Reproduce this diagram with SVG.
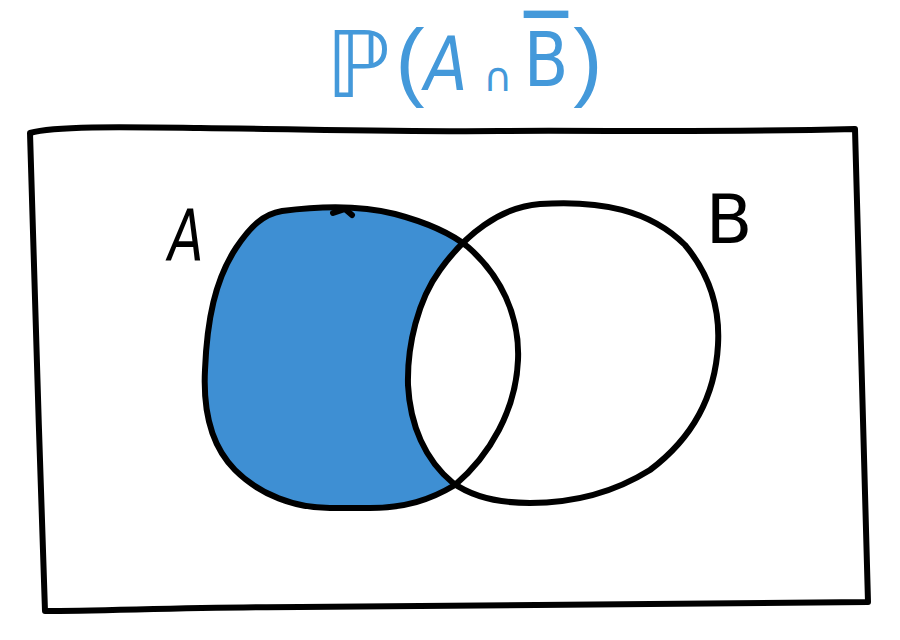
<svg xmlns="http://www.w3.org/2000/svg" width="900" height="640" viewBox="0 0 900 640">
<style>
.ink{fill:none;stroke:#000;stroke-width:6;stroke-linecap:round;stroke-linejoin:round}
.title{font-family:"DejaVu Sans",sans-serif;fill:#4499da;text-anchor:middle}
.paren{font-family:"Liberation Sans",sans-serif;fill:#4499da;text-anchor:middle}
.lbl{font-family:"DejaVu Sans",sans-serif;fill:#000;text-anchor:middle}
</style>
<rect width="900" height="640" fill="#fff"/>
<g id="title">
<text class="title" x="358" y="97" font-size="92">ℙ</text>
<text class="paren" x="410" y="90" font-size="88">(</text>
<text class="title" x="446" y="90" font-size="74" font-style="italic" transform="translate(446,0) scale(0.85,1) translate(-446,0)">A</text>
<text class="title" x="498" y="91" font-size="40">∩</text>
<text class="title" x="546" y="86" font-size="74" text-decoration="overline" transform="translate(546,0) scale(0.88,1) translate(-546,0)">B</text>
<text class="paren" x="588" y="90" font-size="88">)</text>
</g>
<g id="universe">
<path class="ink" d="M30,133 C55,126 120,127 200,128 C300,129 400,132 500,131 C600,130 700,133 855,129 C858,250 862,420 868,602 C700,604 500,607 300,607 C200,607 100,611 45,611 C40,450 34,300 30,133 Z"/>
</g>
<g id="setA">
<path id="Ashape" d="M282,211 C320,206 360,205 395,214 C425,222 452,234 468,247 C500,275 520,315 518,360 C516,410 490,455 455,485 C430,500 405,508 370,508 L330,508 C295,508 260,495 235,470 C210,445 203,410 205,370 C207,320 215,280 236,248 C250,227 263,214 282,211 Z" fill="#3e8fd3"/>
</g>
<g id="setB">
<path id="Bshape" d="M540,204 C600,200 650,210 685,245 C710,275 720,310 718,345 C715,400 690,440 650,470 C610,495 570,503 530,503 C495,503 470,495 453,483 C425,460 410,425 408,385 C407,345 418,300 440,270 C465,235 500,207 540,204 Z" fill="#fff"/>
</g>
<g id="outlines">
<path class="ink" d="M282,211 C320,206 360,205 395,214 C425,222 452,234 468,247 C500,275 520,315 518,360 C516,410 490,455 455,485 C430,500 405,508 370,508 L330,508 C295,508 260,495 235,470 C210,445 203,410 205,370 C207,320 215,280 236,248 C250,227 263,214 282,211 Z"/>
<path class="ink" d="M333,213 L345,209 L352,215" stroke-width="3"/>
<path class="ink" d="M540,204 C600,200 650,210 685,245 C710,275 720,310 718,345 C715,400 690,440 650,470 C610,495 570,503 530,503 C495,503 470,495 453,483 C425,460 410,425 408,385 C407,345 418,300 440,270 C465,235 500,207 540,204 Z"/>
</g>
<g id="labelA"><text class="lbl" x="0" y="0" font-size="72" font-style="italic" transform="translate(186,260) scale(0.72,1)">A</text></g>
<g id="labelB"><text class="lbl" x="729" y="243" font-size="68">B</text></g>
</svg>
